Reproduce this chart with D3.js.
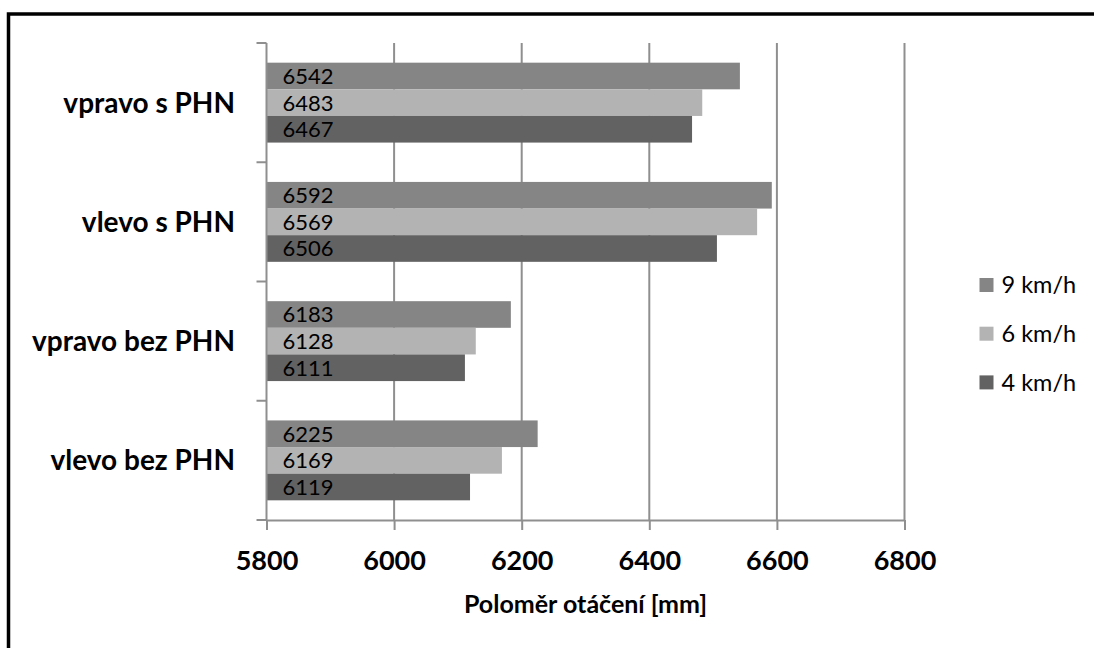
<!DOCTYPE html>
<html>
<head>
<meta charset="utf-8">
<script src="https://cdn.jsdelivr.net/npm/d3@7"></script>
<style>
  html, body { margin: 0; padding: 0; background: #fff; }
  svg { display: block; }
  text { font-family: Lato, "Open Sans", sans-serif; fill: #000; }
</style>
</head>
<body>
<svg id="chart" width="1094" height="648"></svg>
<script>
// Turning radius per manoeuvre and speed
const categories = ["vpravo s PHN", "vlevo s PHN", "vpravo bez PHN", "vlevo bez PHN"];
const seriesNames = ["9 km/h", "6 km/h", "4 km/h"];
const values9 = [6542, 6592, 6183, 6225];
const values6 = [6483, 6569, 6128, 6169];
const values4 = [6467, 6506, 6111, 6119];
const xTicks = [5800, 6000, 6200, 6400, 6600, 6800];
const seriesColors = ["#858585", "#b3b3b3", "#626262"];
const xTitle = "Poloměr otáčení [mm]";

const seriesValues = [values9, values6, values4];
const rows = categories.map((c, i) => ({
  category: c,
  bars: seriesNames.map((s, j) => ({ series: s, value: seriesValues[j][i], color: seriesColors[j] }))
}));

const svg = d3.select("#chart");

// outer frame
svg.append("rect")
  .attr("x", 8.5).attr("y", 14)
  .attr("width", 1200).attr("height", 800)
  .attr("fill", "#fff").attr("stroke", "#000").attr("stroke-width", 3.5);

const plot = { left: 266.5, right: 904.5, top: 43, bottom: 520 };

const x = d3.scaleLinear().domain([5800, 6800]).range([plot.left, plot.right]);
const y = d3.scaleBand().domain(categories).range([plot.top, plot.bottom])
  .paddingInner(0.33).paddingOuter(0.165);
const ySub = d3.scaleBand().domain(seriesNames).range([0, y.bandwidth()]);

const gridColor = "#8f8f8f";

// vertical gridlines
svg.append("g").selectAll("line")
  .data(xTicks.slice(1))
  .join("line")
  .attr("x1", d => x(d)).attr("x2", d => x(d))
  .attr("y1", plot.top).attr("y2", plot.bottom)
  .attr("stroke", gridColor).attr("stroke-width", 2);

// bars
const groups = svg.append("g").selectAll("g")
  .data(rows)
  .join("g")
  .attr("transform", d => `translate(0,${y(d.category)})`);

groups.selectAll("rect")
  .data(d => d.bars)
  .join("rect")
  .attr("x", x(5800))
  .attr("y", d => ySub(d.series))
  .attr("width", d => x(d.value) - x(5800))
  .attr("height", ySub.bandwidth())
  .attr("fill", d => d.color);

groups.selectAll("text")
  .data(d => d.bars)
  .join("text")
  .attr("x", x(5800) + 16)
  .attr("y", d => ySub(d.series) + ySub.bandwidth() / 2)
  .attr("dy", "0.36em")
  .attr("font-size", 22)
  .attr("fill", "#111")
  .text(d => d.value);

// x axis
const xAxis = svg.append("g")
  .attr("transform", `translate(0,${plot.bottom})`)
  .call(d3.axisBottom(x).tickValues(xTicks).tickFormat(d3.format("d"))
    .tickSize(10).tickPadding(21).tickSizeOuter(0));
xAxis.select(".domain").attr("stroke", gridColor).attr("stroke-width", 2);
xAxis.selectAll(".tick line").attr("stroke", gridColor).attr("stroke-width", 2);
xAxis.selectAll(".tick text")
  .attr("font-family", "Lato, sans-serif")
  .attr("font-size", 27).attr("font-weight", "bold").attr("fill", "#000");

// y axis (category boundaries as ticks)
const yAxisG = svg.append("g");
yAxisG.append("line")
  .attr("x1", plot.left).attr("x2", plot.left)
  .attr("y1", plot.top).attr("y2", plot.bottom)
  .attr("stroke", gridColor).attr("stroke-width", 2);
const boundaries = d3.range(categories.length + 1).map(i => plot.top + i * y.step());
yAxisG.selectAll("line.tick")
  .data(boundaries)
  .join("line")
  .attr("class", "tick")
  .attr("x1", plot.left - 10).attr("x2", plot.left)
  .attr("y1", d => d).attr("y2", d => d)
  .attr("stroke", gridColor).attr("stroke-width", 2);
yAxisG.selectAll("text")
  .data(categories)
  .join("text")
  .attr("x", 235)
  .attr("y", d => y(d) + y.bandwidth() / 2)
  .attr("dy", "0.36em")
  .attr("text-anchor", "end")
  .attr("font-size", 28)
  .attr("font-weight", "bold")
  .text(d => d);

// x axis title
svg.append("text")
  .attr("x", (plot.left + plot.right) / 2)
  .attr("y", 613)
  .attr("text-anchor", "middle")
  .attr("font-size", 25)
  .attr("font-weight", "bold")
  .text(xTitle);

// legend
const legend = svg.append("g").attr("transform", "translate(979.5,285)");
const li = legend.selectAll("g")
  .data(seriesNames)
  .join("g")
  .attr("transform", (d, i) => `translate(0,${i * 48.7})`);
li.append("rect")
  .attr("x", 0).attr("y", -7).attr("width", 14).attr("height", 14)
  .attr("fill", (d, i) => seriesColors[i]);
li.append("text")
  .attr("x", 22).attr("y", 0).attr("dy", "0.36em")
  .attr("font-size", 23.5)
  .text(d => d);
</script>
</body>
</html>
